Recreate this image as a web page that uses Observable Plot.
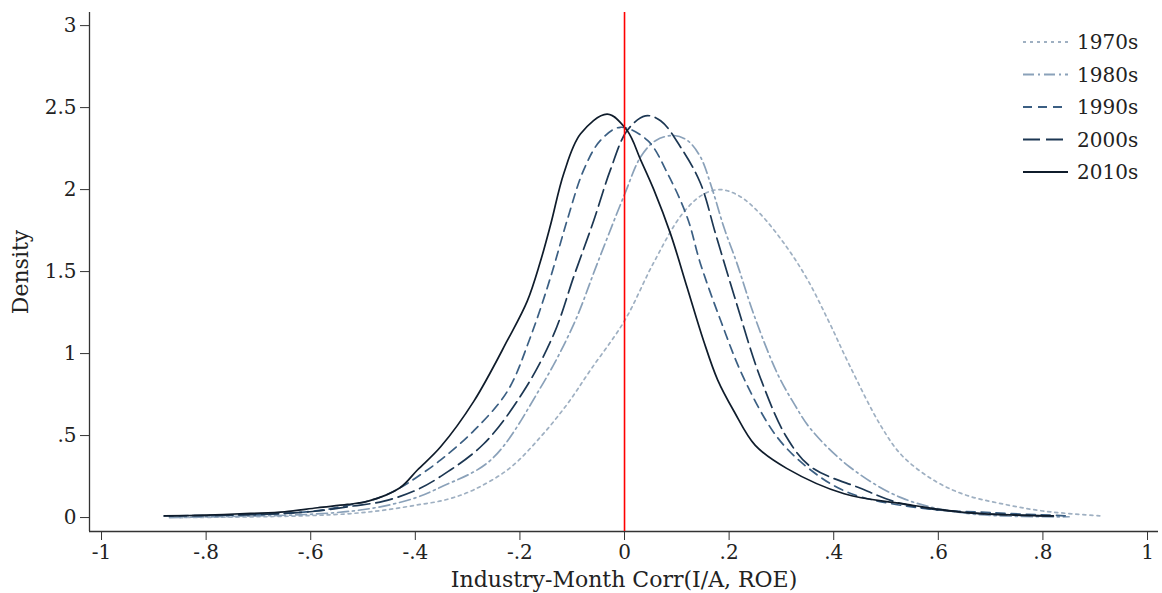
<!DOCTYPE html>
<html>
<head>
<meta charset="utf-8">
<script src="https://cdn.jsdelivr.net/npm/d3@7"></script>
<script src="https://cdn.jsdelivr.net/npm/@observablehq/plot@0.6"></script>
<style>
  html, body { margin: 0; padding: 0; background: #fff; }
  #wrap { position: relative; width: 1162px; height: 593px; }
  #legend { position: absolute; left: 1015px; top: 24px; }
  svg text { font-family: "DejaVu Serif", serif; }
</style>
</head>
<body>
<div id="wrap"></div>
<script>
// ---- data ----
const decades = ["1970s", "1980s", "1990s", "2000s", "2010s"];

const x1970 = [-0.85,-0.7,-0.6,-0.52,-0.46,-0.40,-0.34,-0.288,-0.22,-0.161,-0.11,-0.065,0,0.055,0.11,0.15,0.184,0.22,0.26,0.31,0.35,0.39,0.43,0.49,0.53,0.59,0.65,0.72,0.8,0.91];
const y1970 = [0,0.005,0.012,0.025,0.045,0.075,0.11,0.17,0.30,0.49,0.69,0.9,1.2,1.55,1.85,1.97,2.0,1.96,1.85,1.65,1.45,1.2,0.93,0.56,0.38,0.23,0.14,0.085,0.04,0.01];

const x1980 = [-0.87,-0.7,-0.6,-0.52,-0.46,-0.40,-0.352,-0.256,-0.161,-0.097,-0.052,0,0.031,0.06,0.094,0.12,0.145,0.168,0.19,0.215,0.247,0.292,0.325,0.356,0.43,0.53,0.655,0.85];
const y1980 = [0,0.01,0.02,0.04,0.07,0.12,0.185,0.35,0.79,1.18,1.55,1.97,2.2,2.3,2.33,2.3,2.2,2.0,1.77,1.55,1.24,0.88,0.69,0.54,0.31,0.12,0.025,0.005];

const x1990 = [-0.88,-0.75,-0.65,-0.58,-0.52,-0.47,-0.43,-0.40,-0.352,-0.288,-0.224,-0.18,-0.141,-0.11,-0.078,-0.046,-0.008,0.044,0.082,0.12,0.145,0.184,0.228,0.292,0.356,0.43,0.56,0.7,0.85];
const y1990 = [0.01,0.015,0.025,0.045,0.08,0.12,0.18,0.24,0.35,0.53,0.77,1.10,1.47,1.81,2.12,2.30,2.38,2.3,2.1,1.83,1.55,1.2,0.85,0.49,0.29,0.15,0.06,0.03,0.01];

const x2000 = [-0.87,-0.75,-0.65,-0.587,-0.52,-0.46,-0.40,-0.352,-0.269,-0.193,-0.135,-0.097,-0.059,-0.027,0.005,0.04,0.069,0.107,0.145,0.175,0.21,0.26,0.31,0.356,0.45,0.53,0.655,0.82];
const y2000 = [0.01,0.015,0.025,0.04,0.07,0.1,0.165,0.25,0.45,0.77,1.12,1.47,1.81,2.12,2.36,2.45,2.42,2.26,2.04,1.72,1.35,0.85,0.49,0.31,0.18,0.085,0.03,0.01];

const x2010 = [-0.88,-0.8,-0.715,-0.65,-0.587,-0.53,-0.49,-0.43,-0.396,-0.352,-0.288,-0.224,-0.186,-0.161,-0.141,-0.116,-0.084,-0.033,0.005,0.031,0.056,0.088,0.12,0.151,0.178,0.209,0.25,0.31,0.42,0.53,0.655,0.82];
const y2010 = [0.01,0.015,0.025,0.035,0.06,0.08,0.1,0.18,0.29,0.43,0.71,1.08,1.32,1.56,1.79,2.10,2.34,2.46,2.36,2.18,2.0,1.73,1.4,1.08,0.84,0.65,0.44,0.3,0.145,0.085,0.03,0.01];

const xTicks = [-1,-0.8,-0.6,-0.4,-0.2,0,0.2,0.4,0.6,0.8,1];
const yTicks = [0,0.5,1,1.5,2,2.5,3];
const refLine = [0];

// ---- styles ----
const styles = {
  "1970s": {stroke: "#9fb0c2", dash: "3,4"},
  "1980s": {stroke: "#8aa1b9", dash: "11,4,2,4"},
  "1990s": {stroke: "#3b5f83", dash: "9,6"},
  "2000s": {stroke: "#1c3753", dash: "17,6"},
  "2010s": {stroke: "#0f1c2b", dash: null}
};

const seriesX = [x1970, x1980, x1990, x2000, x2010];
const seriesY = [y1970, y1980, y1990, y2000, y2010];
const tables = decades.map((d, i) => seriesX[i].map((x, j) => ({decade: d, x, y: seriesY[i][j]})));

const fmt = v => v === 0 ? "0" : String(v).replace("0.", ".");

const xDomain = [-1.023, 1.021];
const yDomain = [-0.085, 3.08];

const lineMarks = tables.map((t, i) => {
  const s = styles[decades[i]];
  const o = {x: "x", y: "y", stroke: s.stroke, strokeWidth: 1.7, curve: "catmull-rom"};
  if (s.dash) o.strokeDasharray = s.dash;
  return Plot.line(t, o);
});

const chart = Plot.plot({
  width: 1162,
  height: 593,
  marginLeft: 89,
  marginRight: 4,
  marginTop: 12,
  marginBottom: 62,
  style: {fontFamily: "DejaVu Serif, serif", fontSize: "20px", color: "#222", background: "#fff"},
  x: {domain: xDomain, ticks: xTicks, tickFormat: fmt, label: null},
  y: {domain: yDomain, ticks: yTicks, tickFormat: fmt, label: null},
  marks: [
    Plot.axisX({ticks: xTicks, tickFormat: fmt, tickSize: 9, tickPadding: 4, fontSize: 20, stroke: "#333"}),
    Plot.axisY({ticks: yTicks, tickFormat: fmt, tickSize: 9, tickPadding: 4, fontSize: 20, stroke: "#333"}),
    Plot.ruleX([xDomain[0]], {stroke: "#333", strokeWidth: 1.3}),
    Plot.ruleY([yDomain[0]], {stroke: "#333", strokeWidth: 1.3}),
    ...lineMarks,
    Plot.ruleX(refLine, {stroke: "#ff0000", strokeWidth: 1.6}),
    Plot.text(["Industry-Month Corr(I/A, ROE)"], {frameAnchor: "bottom", dy: 55, fontSize: 22, fill: "#222"}),
    Plot.text(["Density"], {frameAnchor: "left", textAnchor: "middle", dx: -69, rotate: -90, fontSize: 22, fill: "#222"})
  ]
});

document.getElementById("wrap").appendChild(chart);

// ---- legend ----
const lg = d3.select("#wrap").append("svg")
  .attr("id", "legend").attr("width", 145).attr("height", 170);
decades.forEach((d, i) => {
  const s = styles[d];
  const yy = 18 + i * 32.5;
  const ln = lg.append("line").attr("x1", 8).attr("x2", 53).attr("y1", yy).attr("y2", yy)
    .attr("stroke", s.stroke).attr("stroke-width", 1.8);
  if (s.dash) ln.attr("stroke-dasharray", s.dash);
  lg.append("text").attr("x", 62).attr("y", yy).attr("dy", "0.36em")
    .attr("font-size", 20).attr("fill", "#222").text(d);
});
</script>
</body>
</html>
